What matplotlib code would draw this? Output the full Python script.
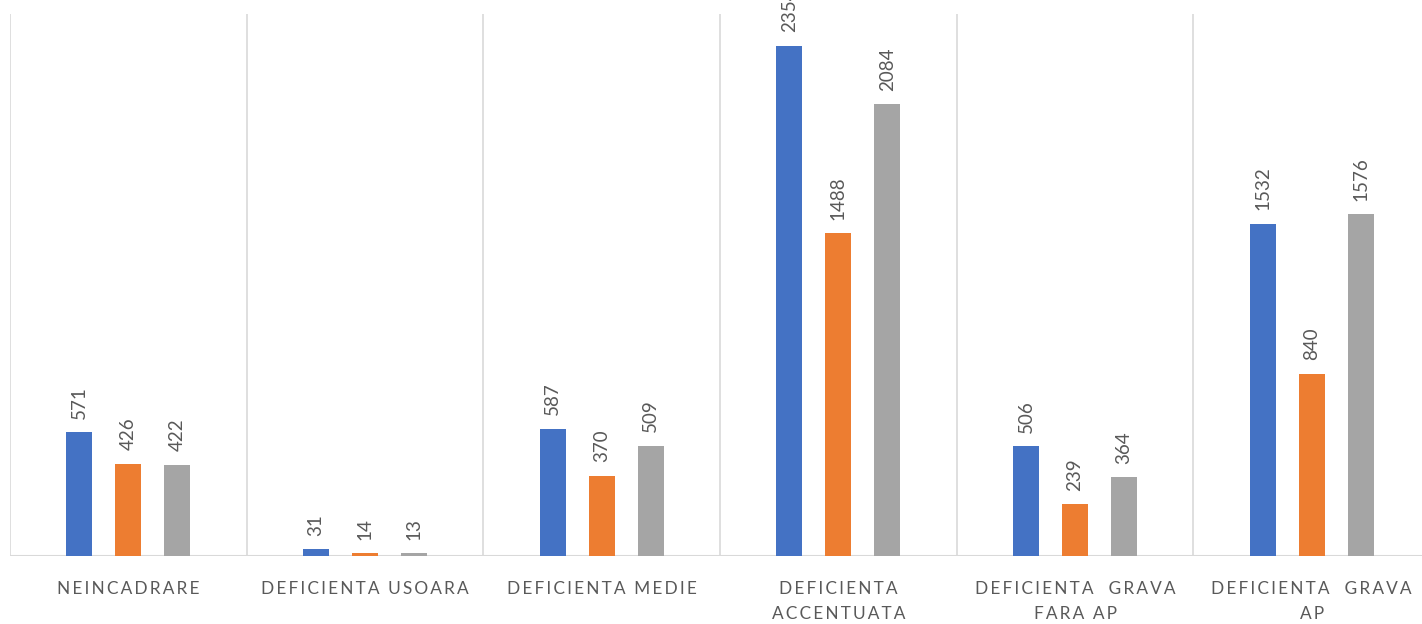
import matplotlib.pyplot as plt
import numpy as np

categories = ["NEINCADRARE", "DEFICIENTA USOARA", "DEFICIENTA MEDIE",
              "DEFICIENTA\nACCENTUATA", "DEFICIENTA  GRAVA\nFARA AP", "DEFICIENTA  GRAVA\nAP"]
series_1 = [571, 31, 587, 2354, 506, 1532]
series_2 = [426, 14, 370, 1488, 239, 840]
series_3 = [422, 13, 509, 2084, 364, 1576]
colors = ["#4472C4", "#ED7D31", "#A5A5A5"]

def spaced(s):
    return "\n".join("\u2009".join(ch for ch in line) for line in s.split("\n"))

fig = plt.figure(figsize=(14.22, 6.24), dpi=100)
ax = fig.add_axes([10 / 1422, 68 / 624, 1420 / 1422, 542 / 624])

x = np.arange(len(categories))
off = 0.207
w = 0.11
for i, (vals, c) in enumerate(zip([series_1, series_2, series_3], colors)):
    pos = x + (i - 1) * off
    ax.bar(pos, vals, width=w, color=c, zorder=3)
    for xp, v in zip(pos, vals):
        ax.text(xp, v + 62, str(v), rotation=90, ha="center", va="bottom",
                fontsize=13.5, color="#595959", family="Lato", clip_on=False)

for b in np.arange(-0.5, len(categories) + 0.5, 1):
    ax.axvline(b, color="#D9D9D9", lw=1.2, zorder=1)
ax.axhline(0, color="#D9D9D9", lw=1.5, zorder=2)

ax.set_xlim(-0.5, len(categories) - 0.5)
ax.set_ylim(0, 2500)
ax.set_yticks([])
ax.set_xticks(x)
ax.set_xticklabels([spaced(c) for c in categories], fontsize=12.4, color="#595959",
                   family="Lato", linespacing=1.66)
ax.tick_params(axis="x", length=0, pad=18)
for s in ax.spines.values():
    s.set_visible(False)

fig.savefig("out.png", dpi=100)
